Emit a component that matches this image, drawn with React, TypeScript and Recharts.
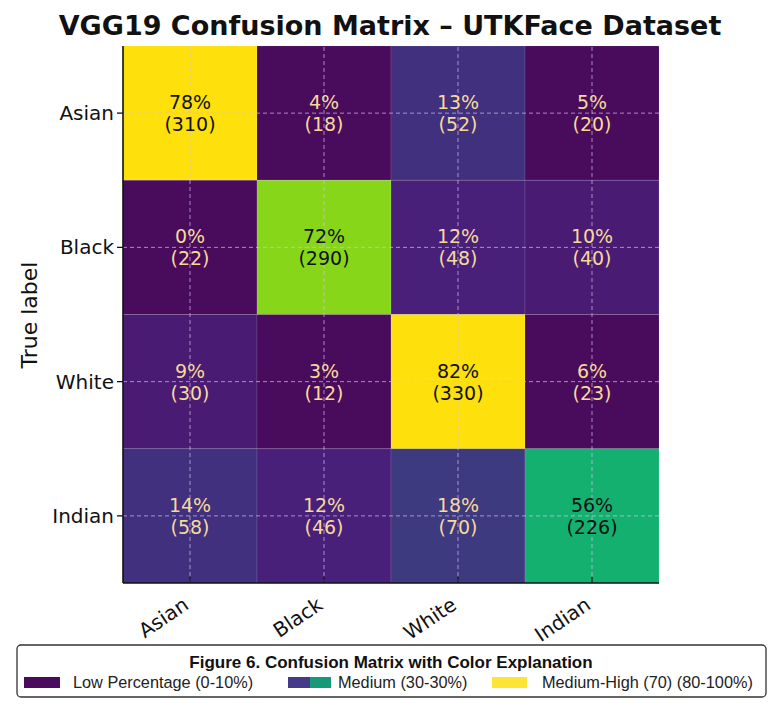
import React from "react";
import {
	ReferenceArea,
	ReferenceLine,
	Scatter,
	ScatterChart,
	XAxis,
	YAxis,
} from "recharts";

// class order on both axes
const classLabels = ["Asian", "Black", "White", "Indian"];
const axisTicks = [0, 1, 2, 3];

// per true-label row: percentage and raw count for each predicted class
const asianPct = [78, 4, 13, 5];
const asianCount = [310, 18, 52, 20];
const blackPct = [0, 72, 12, 10];
const blackCount = [22, 290, 48, 40];
const whitePct = [9, 3, 82, 6];
const whiteCount = [30, 12, 330, 23];
const indianPct = [14, 12, 18, 56];
const indianCount = [58, 46, 70, 226];

const pctRows = [asianPct, blackPct, whitePct, indianPct];
const countRows = [asianCount, blackCount, whiteCount, indianCount];

const cells = pctRows.flatMap((row, r) =>
	row.map((pct, c) => ({ x: c, y: r, pct, count: countRows[r][c] })),
);

const FONT = "'DejaVu Sans', sans-serif";
const LEGEND_FONT = "'Liberation Sans', Arial, sans-serif";

// viridis-like bins
function cellColor(p: number) {
	if (p >= 75) return "#FEE10C";
	if (p >= 65) return "#88D61A";
	if (p >= 40) return "#14B06F";
	if (p >= 16) return "#3D3A80";
	if (p >= 13) return "#40307D";
	if (p >= 11) return "#48207A";
	if (p >= 8) return "#491B72";
	return "#490B5B";
}

function CellText(props: any) {
	const { cx, cy, payload } = props;
	if (cx == null || cy == null) return null;
	const fill = payload.pct >= 50 ? "#111111" : "#F6D99A";
	return (
		<text textAnchor="middle" fontFamily={FONT} fontSize={19} fill={fill}>
			<tspan x={cx} y={cy - 4}>
				{payload.pct}%
			</tspan>
			<tspan x={cx} y={cy + 18}>
				({payload.count})
			</tspan>
		</text>
	);
}

function XTick({ x, y, payload }: any) {
	const tx = x;
	const ty = y + 25;
	return (
		<g>
			<line x1={x} x2={x} y1={y - 6} y2={y} stroke="#111" strokeWidth={1.3} />
			<text
				x={tx}
				y={ty}
				textAnchor="end"
				fontFamily={FONT}
				fontSize={20}
				fill="#111"
				transform={`rotate(-34 ${tx} ${ty})`}
			>
				{classLabels[payload.value]}
			</text>
		</g>
	);
}

function YTick({ x, y, payload }: any) {
	return (
		<g>
			<line x1={x - 6} x2={x} y1={y} y2={y} stroke="#111" strokeWidth={1.3} />
			<text
				x={x - 9}
				y={y}
				dy={7}
				textAnchor="end"
				fontFamily={FONT}
				fontSize={20}
				fill="#111"
			>
				{classLabels[payload.value]}
			</text>
		</g>
	);
}

function Legend() {
	return (
		<g>
			<rect
				x={17}
				y={645}
				width={749}
				height={52}
				rx={4}
				fill="#fff"
				stroke="#333"
				strokeWidth={1.3}
			/>
			<text
				x={391}
				y={668}
				textAnchor="middle"
				fontFamily={LEGEND_FONT}
				fontWeight="bold"
				fontSize={17}
				fill="#111"
			>
				Figure 6. Confusion Matrix with Color Explanation
			</text>
			<rect x={24} y={677} width={36} height={11} fill="#4A0A5E" />
			<text x={73} y={688} fontFamily={LEGEND_FONT} fontSize={16.3} fill="#222">
				Low Percentage (0-10%)
			</text>
			<rect x={288} y={677} width={22} height={11} fill="#45398A" />
			<rect x={310} y={677} width={21} height={11} fill="#149A78" />
			<text x={338} y={688} fontFamily={LEGEND_FONT} fontSize={16.3} fill="#222">
				Medium (30-30%)
			</text>
			<rect x={492} y={677} width={35} height={11} fill="#FEE433" />
			<text x={542} y={688} fontFamily={LEGEND_FONT} fontSize={16.3} fill="#222">
				Medium-High (70) (80-100%)
			</text>
		</g>
	);
}

export default function App() {
	return (
		<div
			style={{
				position: "absolute",
				left: 0,
				top: 0,
				width: 776,
				height: 708,
				background: "#fff",
			}}
		>
			<div style={{ position: "absolute", left: 0, top: 0 }}>
				<ScatterChart
					width={776}
					height={708}
					margin={{ top: 46, right: 117, bottom: 65, left: 13 }}
				>
					<XAxis
						type="number"
						dataKey="x"
						domain={[-0.5, 3.5]}
						ticks={axisTicks}
						allowDataOverflow
						height={60}
						tickSize={0}
						tickMargin={0}
						tick={<XTick />}
						axisLine={{ stroke: "#111", strokeWidth: 1.6 }}
						tickLine={false}
					/>
					<YAxis
						type="number"
						dataKey="y"
						domain={[-0.5, 3.5]}
						ticks={axisTicks}
						allowDataOverflow
						reversed
						width={110}
						tickSize={0}
						tickMargin={0}
						tick={<YTick />}
						axisLine={{ stroke: "#111", strokeWidth: 1.6 }}
						tickLine={false}
					/>
					{cells.map((d) => (
						<ReferenceArea
							key={`cell-${d.x}-${d.y}`}
							x1={d.x - 0.5}
							x2={d.x + 0.5}
							y1={d.y - 0.5}
							y2={d.y + 0.5}
							fill={cellColor(d.pct)}
							fillOpacity={1}
							stroke="rgba(255,255,255,0.1)"
							strokeWidth={1}
						/>
					))}
					{axisTicks.map((t) => (
						<ReferenceLine
							key={`vx-${t}`}
							x={t}
							stroke="#D8BCF0"
							strokeOpacity={0.7}
							strokeDasharray="4 3"
						/>
					))}
					{axisTicks.map((t) => (
						<ReferenceLine
							key={`hy-${t}`}
							y={t}
							stroke="#D8BCF0"
							strokeOpacity={0.7}
							strokeDasharray="4 3"
						/>
					))}
					<Scatter
						data={cells}
						shape={<CellText />}
						isAnimationActive={false}
					/>
				</ScatterChart>
			</div>
			<svg
				width={776}
				height={708}
				style={{ position: "absolute", left: 0, top: 0, pointerEvents: "none" }}
			>
				<text
					x={390}
					y={35}
					textAnchor="middle"
					fontFamily={FONT}
					fontWeight="bold"
					fontSize={27}
					fill="#111"
				>
					VGG19 Confusion Matrix – UTKFace Dataset
				</text>
				<text
					x={37}
					y={315}
					textAnchor="middle"
					fontFamily={FONT}
					fontSize={22}
					fill="#111"
					transform="rotate(-90 37 315)"
				>
					True label
				</text>
				<Legend />
			</svg>
		</div>
	);
}
